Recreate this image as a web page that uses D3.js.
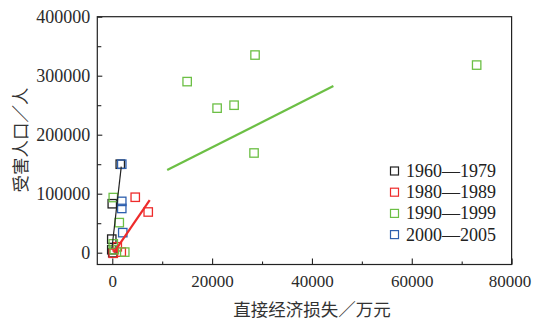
<!DOCTYPE html>
<html><head><meta charset="utf-8">
<script src="https://cdn.jsdelivr.net/npm/d3@7/dist/d3.min.js"></script>
<style>body{margin:0;background:#fff}svg{display:block}</style>
</head><body>
<script>
const seriesNames = ["1960—1979","1980—1989","1990—1999","2000—2005"];
const seriesColors = ["#222222","#ee2b2b","#6cbf45","#2d5fae"];
// points: [直接经济损失(万元), 受害人口(人)]
const s1960 = [[1600,150000],[0,83000],[-100,23000],[-100,5000],[100,0]];
const s1980 = [[4600,94000],[7200,69000],[1000,10000],[200,-1000],[1800,1000]];
const s1990 = [[15000,290000],[28600,335000],[21000,245000],[24400,250000],[28400,169000],[73000,318000],[200,93500],[1400,51000],[200,15000],[2500,1000],[400,5000]];
const s2000 = [[1900,150000],[1900,87000],[1900,75000],[2100,34000]];
// fitted lines [x0,y0,x1,y1]
const fit1960 = [[-60,8000],[1800,146000]];
const fit1980 = [[300,0],[7500,89000]];
const fit1990 = [[11000,140000],[44300,282500]];
const xTicks = [0,20000,40000,60000,80000];
const yTicks = [0,100000,200000,300000,400000];

const W=533,H=320;
const svg=d3.select("body").append("svg").attr("width",W).attr("height",H);
const x=d3.scaleLinear().domain([-3000,80000]).range([97.3,511.6]);
const y=d3.scaleLinear().domain([-20000,400000]).range([264.5,16.7]);
const serif="'Liberation Serif','DejaVu Serif',serif";
const cjk="'Noto Sans CJK SC',sans-serif";

const data=[s1960,s1980,s1990,s2000];
const fits=[fit1960,fit1980,fit1990,null];

// markers
data.forEach((arr,i)=>{
  svg.append("g").selectAll("rect").data(arr).enter().append("rect")
    .attr("x",d=>x(d[0])-4.2).attr("y",d=>y(d[1])-4.2)
    .attr("width",8.4).attr("height",8.4)
    .attr("fill","none").attr("stroke",seriesColors[i]).attr("stroke-width",1.3);
});
// fit lines
fits.forEach((f,i)=>{
  if(!f) return;
  svg.append("line").attr("x1",x(f[0][0])).attr("y1",y(f[0][1]))
    .attr("x2",x(f[1][0])).attr("y2",y(f[1][1]))
    .attr("stroke",seriesColors[i]).attr("stroke-width",i===0?1.2:2.2);
});

// frame
svg.append("rect").attr("x",x.range()[0]).attr("y",y.range()[1])
  .attr("width",x.range()[1]-x.range()[0]).attr("height",y.range()[0]-y.range()[1])
  .attr("fill","none").attr("stroke","#222").attr("stroke-width",1.2);

// axes with inward ticks
const xAxis=svg.append("g").attr("transform",`translate(0,${y.range()[0]})`)
  .call(d3.axisBottom(x).tickValues(xTicks).tickSize(-6).tickPadding(10).tickFormat(d3.format("d")));
const xMinor=svg.append("g").attr("transform",`translate(0,${y.range()[0]})`)
  .call(d3.axisBottom(x).tickValues([10000,30000,50000,70000]).tickSize(-3).tickFormat(""));
const yAxis=svg.append("g").attr("transform",`translate(${x.range()[0]},0)`)
  .call(d3.axisLeft(y).tickValues(yTicks).tickSize(-5).tickPadding(7).tickFormat(d3.format("d")));
const yMinor=svg.append("g").attr("transform",`translate(${x.range()[0]},0)`)
  .call(d3.axisLeft(y).tickValues([50000,150000,250000,350000]).tickSize(-4).tickFormat(""));
[xAxis,xMinor,yAxis,yMinor].forEach(g=>{
  g.select(".domain").remove();
  g.selectAll("line").attr("stroke","#222").attr("stroke-width",1.1);
  g.selectAll("text").attr("font-family",serif).attr("font-size",18).attr("fill","#2a2a2a");
});
xAxis.selectAll("text").attr("font-size",17).attr("dx",d=>d===80000?-2:0);

// titles
svg.append("text").attr("x",312).attr("y",316).attr("text-anchor","middle")
  .attr("font-family",cjk).attr("font-size",17.5).attr("fill","#333").text("直接经济损失／万元");
svg.append("text").attr("transform","translate(27,140) rotate(-90)").attr("text-anchor","middle")
  .attr("font-family",cjk).attr("font-size",17.5).attr("fill","#333").text("受害人口／人");

// legend
const lg=svg.append("g");
seriesNames.forEach((n,i)=>{
  const cy=171+i*21.2;
  lg.append("rect").attr("x",390.5).attr("y",cy-4).attr("width",8).attr("height",8)
    .attr("fill","none").attr("stroke",seriesColors[i]).attr("stroke-width",1.2);
  lg.append("text").attr("x",406).attr("y",cy+6).attr("font-family",serif).attr("font-size",18)
    .attr("fill","#222").text(n);
});
</script>
</body></html>
